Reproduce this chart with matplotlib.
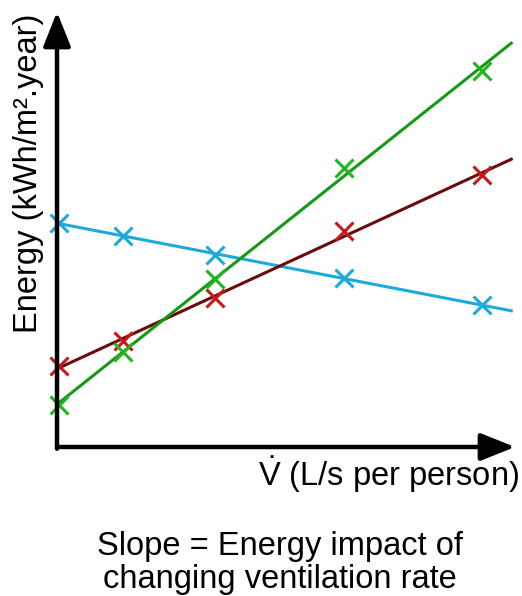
import matplotlib
matplotlib.use('Agg')
import matplotlib.pyplot as plt
import numpy as np

plt.rcParams['font.family'] = ['Liberation Sans', 'DejaVu Sans']
plt.rcParams['mathtext.fontset'] = 'custom'
plt.rcParams['mathtext.rm'] = 'Liberation Sans'

# ventilation rate (arbitrary units, no ticks shown)
vent = [0.0, 1.4, 3.4, 6.2, 9.2]
# energy for three cases
energy_blue = [5.21, 4.91, 4.47, 3.93, 3.30]
energy_red = [1.88, 2.47, 3.47, 5.02, 6.33]
energy_green = [0.98, 2.21, 3.91, 6.49, 8.74]

xmin, xmax = -0.04, 9.91
ymin, ymax = 0.0, 10.12
line_end = 9.83

fig = plt.figure(figsize=(5.22, 5.96), dpi=100)
ax = fig.add_axes([57/522, 1 - 447/596, (515 - 57)/522, (447 - 12)/596])
ax.set_xlim(xmin, xmax)
ax.set_ylim(ymin, ymax)
ax.axis('off')

series = [
    (energy_blue, '#1daadb', '#1daadb'),
    (energy_red, '#6a0a0a', '#c81818'),
    (energy_green, '#159a15', '#22b522'),
]
xs = np.array([xmin + 0.02, line_end])
for vals, line_c, mark_c in series:
    k, b = np.polyfit(vent, vals, 1)
    ax.plot(xs, k * xs + b, color=line_c, lw=2.2, clip_on=False, zorder=2)
    ax.plot(vent, vals, 'x', color=mark_c, ms=13, mew=2.2, clip_on=False, zorder=3)

# axis arrows
arrow = dict(arrowstyle='-|>,head_length=1.05,head_width=0.42', lw=3.2,
             color='black', shrinkA=0, shrinkB=0, mutation_scale=20)
ax.annotate('', xy=(xmax, 0), xytext=(xmin, 0), arrowprops=arrow,
            annotation_clip=False, zorder=4)
ax.annotate('', xy=(xmin, ymax), xytext=(xmin, -0.04), arrowprops=arrow,
            annotation_clip=False, zorder=4)

fs = 23.5
fig.text(29/522, 1 - 173/596, 'Energy (kWh/m².year)', rotation=90,
         ha='center', va='center', fontsize=fs)
fig.text(519/522, 1 - 475/596, r'$\dot{\mathrm{V}}$ (L/s per person)',
         ha='right', va='center', fontsize=fs)
fig.text(280/522, 1 - 563/596, 'Slope = Energy impact of\nchanging ventilation rate',
         ha='center', va='center', fontsize=fs, linespacing=1.05)

fig.savefig('out.png', dpi=100)
